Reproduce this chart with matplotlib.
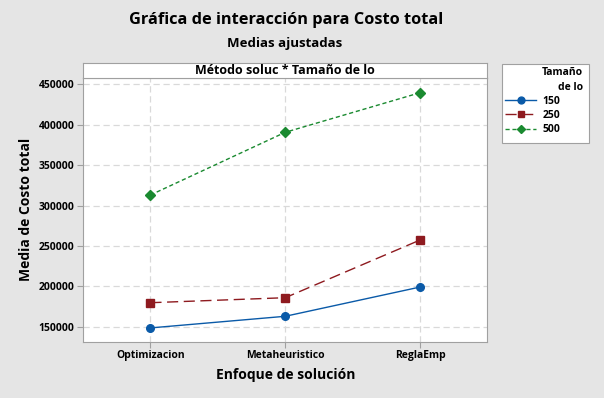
import matplotlib
matplotlib.use("Agg")
import matplotlib.pyplot as plt
from matplotlib.patches import Rectangle

plt.rcParams['font.family'] = ['Open Sans', 'DejaVu Sans']

categories = ["Optimizacion", "Metaheuristico", "ReglaEmp"]
sizes = ["150", "250", "500"]
vals_150 = [148500, 162900, 199100]
vals_250 = [179700, 185900, 257300]
vals_500 = [313000, 390600, 439600]
yticks = [150000, 200000, 250000, 300000, 350000, 400000, 450000]

series = [
    (vals_150, "150", "#0a5aa8", "-", "o", 5.5),
    (vals_250, "250", "#8e1a1f", (0, (8, 4)), "s", 5.5),
    (vals_500, "500", "#1a8a30", (0, (3, 2)), "D", 5.0),
]

W, H = 604, 398
fig = plt.figure(figsize=(W / 100, H / 100), dpi=100)
fig.patch.set_facecolor("#e5e5e5")

ax = fig.add_axes([83 / W, 1 - 341.5 / H, (487.5 - 83) / W, (341.5 - 78) / H])
ax.set_facecolor("white")
x = list(range(len(categories)))
handles = []
for vals, lab, col, ls, mk, ms in series:
    h, = ax.plot(x, vals, color=col, linestyle=ls, linewidth=1.0, marker=mk,
                 markersize=ms, markerfacecolor=col, markeredgecolor=col, label=lab, zorder=3)
    handles.append(h)

ax.set_xlim(-0.5, 2.5)
ax.set_ylim(131700, 457800)
ax.set_xticks(x)
ax.set_xticklabels(categories, fontsize=7.5, fontweight="bold")
ax.set_yticks(yticks)
ax.set_yticklabels([str(v) for v in yticks], fontsize=7.5, fontweight="bold")
ax.grid(True, color="#d9d9d9", linestyle=(0, (5, 3)), linewidth=0.9)
ax.set_axisbelow(True)
for s in ax.spines.values():
    s.set_color("#a0a0a0")
ax.tick_params(axis="both", color="#a0a0a0", length=4, width=0.8, pad=2)
ax.set_xlabel("Enfoque de solución", fontsize=10, fontweight="bold", labelpad=5)
ax.set_ylabel("Media de Costo total", fontsize=10, fontweight="bold", labelpad=4)

strip = fig.add_axes([83 / W, 1 - 78 / H, (487.5 - 83) / W, (78 - 63) / H])
strip.set_facecolor("white")
strip.set_xticks([])
strip.set_yticks([])
for s in strip.spines.values():
    s.set_color("#a0a0a0")
strip.text(0.5, 0.5, "Método soluc * Tamaño de lo", ha="center", va="center",
           fontsize=9, fontweight="bold", transform=strip.transAxes)

fig.text(286 / W, 1 - 20 / H, "Gráfica de interacción para Costo total", ha="center",
         va="center", fontsize=11.8, fontweight="bold")
fig.text(285 / W, 1 - 44 / H, "Medias ajustadas", ha="center", va="center",
         fontsize=9.5, fontweight="bold")

# legend frame
fig.patches.append(Rectangle((502 / W, 1 - 143 / H), 87 / W, 79 / H, transform=fig.transFigure,
                             facecolor="white", edgecolor="#a0a0a0", linewidth=0.8, zorder=1))
fig.text(583 / W, 1 - 80 / H, "Tamaño\nde lo", ha="right", va="center", multialignment="right",
         fontsize=7.5, fontweight="bold", linespacing=1.5, zorder=3)

leg = fig.legend(handles, sizes, loc="upper left", bbox_to_anchor=(505 / W, 1 - 96 / H),
                 frameon=False, prop={"size": 7.5, "weight": "bold"}, handlelength=3.0,
                 handletextpad=0.6, borderpad=0, borderaxespad=0, labelspacing=0.3,
                 markerscale=0.9)
leg.set_zorder(3)

fig.savefig("out.png", dpi=100, facecolor=fig.get_facecolor())
